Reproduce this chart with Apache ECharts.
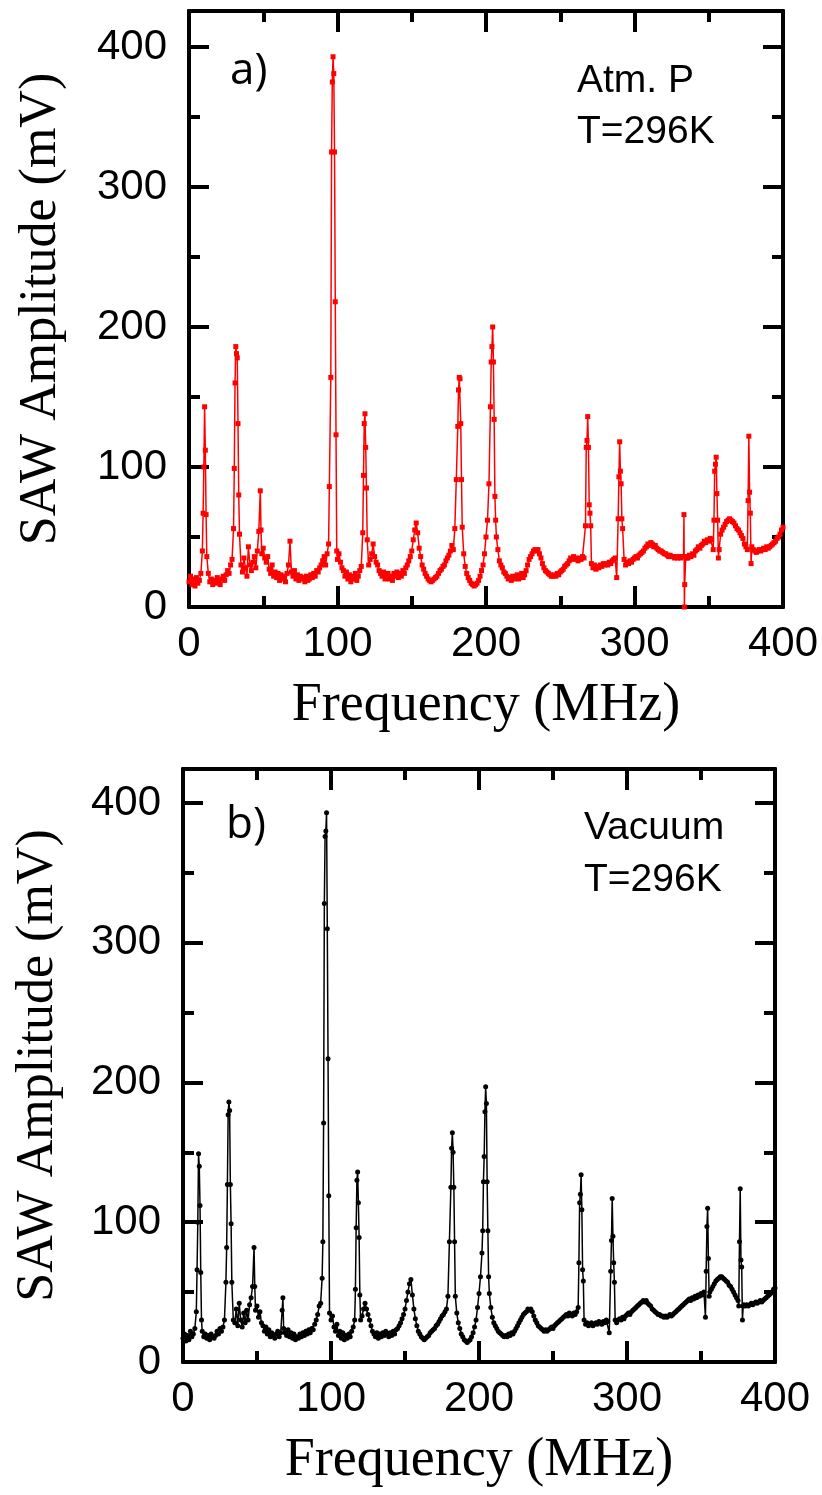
<!DOCTYPE html>
<html>
<head>
<meta charset="utf-8">
<script src="https://cdn.jsdelivr.net/npm/echarts@6/dist/echarts.min.js"></script>
<style>
html,body{margin:0;padding:0;background:#fff;}
#chart{width:822px;height:1495px;}
</style>
</head>
<body>
<div id="chart"></div>
<script>
// Panel a) Atm. P, T=296K : [frequency MHz, amplitude mV]
const spectrumA = [
[0,18],[1,22],[2,16],[3,20],[4,15],[5,21],[6,17],[7,19],[8,24],[9,40],[9.5,67],[10,100],[10.5,143],[11,112],[11.5,66],[12,36],[13,24],[14,18],[15,20],[16,16],[17,19],[18,17],[19,21],[20,18],[21,16],[22,20],[23,22],[24,19],[25,23],[26,26],[27,24],[28,30],[29,34],[30,56],[30.5,99],[31,160],[31.5,186],[32,181],[32.5,178],[33,131],[33.5,80],[34,52],[35,30],[36,25],[37,35],[38,28],[39,22],[40,43],[41,30],[42,26],[43,32],[44,36],[45,28],[46,40],[47,54],[48,83],[48.5,55],[49,38],[50,42],[51,35],[52,32],[53,36],[54,27],[55,24],[56,30],[57,22],[58,25],[59,21],[60,24],[61,19],[62,23],[63,20],[64,22],[65,18],[66,24],[67,30],[68,47],[69,25],[70,22],[71,26],[72,20],[73,23],[74,19],[75,22],[76,20],[77,21],[78,18],[79,22],[80,19],[81,20],[82,23],[83,21],[84,24],[85,22],[86,26],[87,25],[88,28],[89,30],[90,33],[91,36],[92,30],[93,38],[94,45],[94.5,86],[95.5,164],[96,325],[96.5,375],[97,393],[97.5,381],[98,325],[98.5,218],[99,123],[99.5,40],[100,34],[101,38],[102,32],[103,28],[104,26],[105,22],[106,25],[107,20],[108,23],[109,18],[110,22],[111,20],[112,24],[113,19],[114,22],[115,26],[116,29],[117,53],[117.5,94],[118,131],[118.5,138],[119,114],[119.5,85],[120,48],[121,30],[122,34],[123,38],[124,45],[125,36],[126,32],[127,30],[128,26],[129,24],[130,22],[131,25],[132,20],[133,23],[134,24],[135,20],[136,22],[137,19],[138,24],[139,22],[140,25],[141,21],[142,24],[143,22],[144,26],[145,24],[146,28],[147,30],[148,33],[149,36],[150,40],[151,48],[152,55],[153,60],[154,53],[155,42],[156,36],[157,30],[158,27],[159,24],[160,22],[161,20],[162,19],[163,18],[164,19],[165,20],[166,21],[167,22],[168,24],[169,26],[170,27],[171,29],[172,30],[173,33],[174,35],[175,37],[176,40],[177,44],[178,41],[179,56],[180,91],[181,129],[181.5,155],[182,164],[182.5,163],[183,131],[183.5,91],[184,57],[185,38],[186,29],[187,24],[188,21],[189,19],[190,17],[191,16],[192,15],[193,16],[194,17],[195,19],[196,22],[197,26],[198,30],[199,38],[200,50],[201,62],[202,88],[203,143],[203.5,175],[204,186],[204.5,200],[205,175],[205.5,134],[206,79],[206.5,62],[207,50],[208,41],[209,33],[210,30],[211,28],[212,25],[213,24],[214,22],[215,20],[216,21],[217,19],[218,22],[219,20],[220,21],[221,23],[222,20],[223,22],[224,24],[225,21],[226,23],[227,26],[228,30],[229,34],[230,36],[231,38],[232,40],[233,41],[234,40],[235,41],[236,38],[237,35],[238,31],[239,28],[240,26],[241,25],[242,24],[243,23],[244,22],[245,22],[246,23],[247,22],[248,24],[249,23],[250,25],[251,26],[252,27],[253,29],[254,30],[255,31],[256,33],[257,35],[258,34],[259,36],[260,35],[261,34],[262,33],[263,35],[264,34],[265,36],[266,35],[267,58],[267.5,114],[268,119],[268.5,136],[269,114],[269.5,73],[270,67],[270.5,58],[271,31],[272,28],[273,30],[274,27],[275,29],[276,28],[277,30],[278,29],[279,31],[280,30],[281,31],[282,30],[283,32],[284,31],[285,33],[286,34],[287,35],[288,21],[289,63],[289.5,93],[290,118],[290.5,97],[291,88],[291.5,63],[292,56],[293,34],[294,30],[295,32],[296,31],[297,33],[298,32],[299,34],[300,35],[301,36],[302,35],[303,37],[304,38],[305,39],[306,40],[307,42],[308,43],[309,45],[310,44],[311,46],[312,45],[313,43],[314,44],[315,42],[316,41],[317,40],[318,40],[319,39],[320,38],[321,38],[322,37],[323,36],[324,37],[325,36],[326,36],[327,35],[328,36],[329,35],[330,36],[331,35],[332,36],[333,36],[333.3,66],[333.6,0],[333.8,16],[334.5,36],[335,35],[336,35],[337,37],[338,36],[339,38],[340,37],[341,40],[342,41],[343,43],[344,42],[345,44],[346,45],[347,47],[348,46],[349,48],[350,47],[351,49],[352,48],[353,41],[353.5,62],[354,97],[354.5,102],[355,107],[355.5,81],[356,62],[356.5,35],[357,41],[358,52],[359,55],[360,57],[361,59],[362,61],[363,62],[364,63],[365,62],[366,61],[367,60],[368,58],[369,56],[370,55],[371,53],[372,51],[373,49],[374,45],[375,43],[376,41],[376.5,76],[377,122],[377.5,82],[378,67],[378.5,31],[379,43],[380,41],[381,40],[382,39],[383,40],[384,41],[385,40],[386,41],[387,42],[388,41],[389,43],[390,42],[391,43],[392,44],[393,45],[394,46],[395,47],[396,49],[397,50],[398,52],[399,55],[400,57]
];

// Panel b) Vacuum, T=296K : [frequency MHz, amplitude mV]
const spectrumB = [
[0,17],[1,20],[2,15],[3,19],[4,16],[5,22],[6,18],[7,20],[8,24],[9,36],[9.5,66],[10,100],[10.5,149],[11,140],[11.5,112],[12,64],[12.5,30],[13,22],[14,18],[15,20],[16,17],[17,19],[18,16],[19,20],[20,18],[21,17],[22,19],[23,22],[24,20],[25,24],[26,22],[27,25],[28,30],[29,57],[29.5,82],[30,127],[30.5,177],[31,186],[31.5,180],[32,127],[32.5,99],[33,57],[34,30],[35,28],[36,38],[37,26],[38,42],[39,30],[40,25],[41,35],[42,28],[43,37],[44,30],[45,41],[46,46],[47,54],[48,82],[48.5,54],[49,37],[50,40],[51,32],[52,36],[53,28],[54,26],[55,22],[56,25],[57,20],[58,23],[59,18],[60,21],[61,19],[62,17],[63,20],[64,22],[65,18],[66,21],[67,37],[67.5,46],[68,24],[69,21],[70,19],[71,23],[72,18],[73,21],[74,17],[75,20],[76,16],[77,18],[78,17],[79,20],[80,18],[81,21],[82,19],[83,22],[84,20],[85,23],[86,21],[87,24],[88,23],[89,27],[90,30],[91,34],[92,40],[93,42],[94,60],[94.5,86],[95,171],[95.5,328],[96,376],[96.5,380],[97,393],[97.5,310],[98,217],[98.5,119],[99,35],[100,30],[101,33],[102,25],[103,22],[104,27],[105,19],[106,22],[107,17],[108,21],[109,16],[110,19],[111,17],[112,20],[113,18],[114,22],[115,25],[116,30],[116.5,52],[117,96],[117.5,130],[118,136],[118.5,114],[119,89],[119.5,48],[120,30],[121,33],[122,38],[123,42],[124,38],[125,34],[126,30],[127,26],[128,22],[129,20],[130,18],[131,21],[132,17],[133,20],[134,18],[135,21],[136,19],[137,22],[138,20],[139,18],[140,21],[141,19],[142,22],[143,20],[144,23],[145,24],[146,26],[147,28],[148,31],[149,34],[150,38],[151,44],[152,50],[153,56],[154,59],[155,48],[156,38],[157,31],[158,26],[159,22],[160,20],[161,18],[162,17],[163,16],[164,17],[165,18],[166,19],[167,21],[168,22],[169,23],[170,24],[171,26],[172,27],[173,29],[174,31],[175,33],[176,34],[177,36],[178,38],[179,47],[180,86],[181,125],[181.5,153],[182,164],[182.5,150],[183,125],[183.5,86],[184,47],[185,35],[186,28],[187,24],[188,20],[189,18],[190,16],[191,15],[192,14],[193,15],[194,16],[195,18],[196,21],[197,25],[198,30],[199,39],[200,49],[201,61],[202,78],[202.5,94],[203,129],[203.5,147],[204,179],[204.5,197],[205,185],[205.5,129],[206,94],[206.5,61],[207,49],[208,39],[209,32],[210,28],[211,26],[212,24],[213,22],[214,21],[215,20],[216,19],[217,18],[218,19],[219,18],[220,20],[221,19],[222,21],[223,20],[224,22],[225,24],[226,26],[227,28],[228,30],[229,32],[230,34],[231,35],[232,36],[233,38],[234,37],[235,38],[236,36],[237,33],[238,30],[239,28],[240,26],[241,25],[242,24],[243,23],[244,22],[245,23],[246,22],[247,23],[248,24],[249,25],[250,24],[251,26],[252,27],[253,28],[254,29],[255,30],[256,31],[257,32],[258,33],[259,34],[260,33],[261,35],[262,34],[263,33],[264,35],[265,34],[266,36],[267,39],[267.5,71],[268,114],[268.5,120],[269,134],[269.5,109],[270,66],[270.5,58],[271,30],[272,27],[273,28],[274,26],[275,27],[276,28],[277,26],[278,27],[279,28],[280,27],[281,29],[282,28],[283,27],[284,29],[285,28],[286,30],[287,29],[288,21],[289,65],[289.5,87],[290,117],[290.5,90],[291,71],[291.5,57],[292,30],[293,28],[294,30],[295,31],[296,30],[297,32],[298,31],[299,33],[300,34],[301,35],[302,34],[303,36],[304,37],[305,38],[306,39],[307,40],[308,41],[309,42],[310,43],[311,44],[312,43],[313,44],[314,42],[315,41],[316,40],[317,38],[318,37],[319,36],[320,35],[321,34],[322,34],[323,33],[324,33],[325,32],[326,33],[327,32],[328,33],[329,34],[330,33],[331,34],[332,35],[333,36],[334,37],[335,38],[336,39],[337,40],[338,41],[339,42],[340,43],[341,44],[342,45],[343,44],[344,46],[345,45],[346,47],[347,46],[348,48],[349,47],[350,49],[351,48],[352,50],[353,32],[353.5,65],[354,97],[354.5,110],[355,74],[355.5,47],[356,50],[357,52],[358,54],[359,56],[360,58],[361,59],[362,60],[363,61],[364,61],[365,60],[366,59],[367,58],[368,57],[369,55],[370,54],[371,52],[372,50],[373,48],[374,46],[375,44],[375.5,40],[376,86],[376.5,124],[377,73],[377.5,68],[378,30],[378.5,40],[379,41],[380,40],[381,41],[382,40],[383,41],[384,42],[385,41],[386,42],[387,43],[388,42],[389,43],[390,44],[391,43],[392,44],[393,45],[394,46],[395,47],[396,48],[397,49],[398,50],[399,52],[400,53]
];

const xTicks = [0, 100, 200, 300, 400];
const yTicks = [0, 100, 200, 300, 400];
const xTitle = 'Frequency (MHz)';
const yTitle = 'SAW Amplitude (mV)';
const panelLabels = ['a)', 'b)'];
const panelNotes = [['Atm. P', 'T=296K'], ['Vacuum', 'T=296K']];

const grids = [
  {left: 189, right: 39, top: 11, bottom: 888, ymax: 425.7},
  {left: 183, right: 47, top: 769, bottom: 133, ymax: 424.3}
];

const AX = '#000';
const tickFont = {color: '#000', fontFamily: 'Liberation Sans, Arial, sans-serif', fontSize: 42};

const xAxes = [], yAxes = [];
grids.forEach((g, gi) => {
  const baseX = {
    gridIndex: gi, type: 'value', min: xTicks[0], max: xTicks[xTicks.length - 1], interval: 100,
    splitLine: {show: false},
    axisLine: {show: true, onZero: false, lineStyle: {color: AX, width: 4}},
    axisTick: {show: true, inside: true, length: 21, lineStyle: {color: AX, width: 4}},
    minorTick: {show: true, splitNumber: 2, length: 11, lineStyle: {color: AX, width: 4}}
  };
  xAxes.push(Object.assign({}, baseX, {
    position: 'bottom',
    axisLabel: Object.assign({show: true, margin: 16}, tickFont),
    name: xTitle, nameLocation: 'middle', nameGap: 72,
    nameTextStyle: {color: '#000', fontFamily: 'Liberation Serif, Times New Roman, serif', fontSize: 54}
  }));
  xAxes.push(Object.assign({}, baseX, {position: 'top', axisLabel: {show: false}}));
  const baseY = {
    gridIndex: gi, type: 'value', min: 0, max: g.ymax,
    splitLine: {show: false},
    axisLine: {show: true, onZero: false, lineStyle: {color: AX, width: 4}}
  };
  ['left', 'right'].forEach(pos => {
    yAxes.push(Object.assign({}, baseY, {
      position: pos, interval: 100,
      axisTick: {show: true, inside: true, length: 20, lineStyle: {color: AX, width: 4}},
      axisLabel: Object.assign({
        show: pos === 'left', margin: 22, showMaxLabel: false,
        formatter: v => (yTicks.indexOf(v) >= 0 ? String(v) : '')
      }, tickFont)
    }));
    yAxes.push(Object.assign({}, baseY, {
      position: pos, interval: 50,
      axisTick: {show: true, inside: true, length: 11, lineStyle: {color: AX, width: 4}},
      axisLabel: {show: false}
    }));
  });
});

const graphics = [];
const yTitleX = [41, 38];
grids.forEach((g, gi) => {
  const top = g.top, bottom = 1495 - g.bottom;
  graphics.push({
    type: 'text', x: yTitleX[gi], y: (top + bottom) / 2, rotation: Math.PI / 2,
    style: {text: yTitle, fill: '#000', font: '52px "Liberation Serif", "Times New Roman", serif',
      textAlign: 'center', textVerticalAlign: 'middle'}
  });
});
const labelPos = [[230, 71], [226, 825]];
panelLabels.forEach((t, i) => {
  graphics.push({
    type: 'text', x: labelPos[i][0], y: labelPos[i][1],
    style: {text: t, fill: '#000', font: '44px "Open Sans", sans-serif', textAlign: 'left', textVerticalAlign: 'middle'}
  });
});
const notePos = [[577, 81, 132], [584, 828, 880]];
panelNotes.forEach((lines, i) => {
  lines.forEach((t, j) => {
    graphics.push({
      type: 'text', x: notePos[i][0], y: notePos[i][1 + j],
      style: {text: t, fill: '#000', font: '39px "Liberation Sans", Arial, sans-serif', textAlign: 'left', textVerticalAlign: 'middle'}
    });
  });
});

const chart = echarts.init(document.getElementById('chart'), null, {renderer: 'canvas'});
chart.setOption({
  animation: false,
  backgroundColor: '#fff',
  grid: grids.map(g => ({left: g.left, right: g.right, top: g.top, bottom: g.bottom, containLabel: false})),
  xAxis: xAxes,
  yAxis: yAxes,
  graphic: graphics,
  series: [
    {
      type: 'line', name: 'Atm. P', xAxisIndex: 0, yAxisIndex: 0, data: spectrumA,
      symbol: 'rect', symbolSize: 5, showAllSymbol: true, clip: false,
      lineStyle: {color: '#ff0000', width: 1.5}, itemStyle: {color: '#ff0000'}
    },
    {
      type: 'line', name: 'Vacuum', xAxisIndex: 2, yAxisIndex: 4, data: spectrumB,
      symbol: 'circle', symbolSize: 5, showAllSymbol: true, clip: false,
      lineStyle: {color: '#000', width: 1.5}, itemStyle: {color: '#000'}
    }
  ]
});
</script>
</body>
</html>
